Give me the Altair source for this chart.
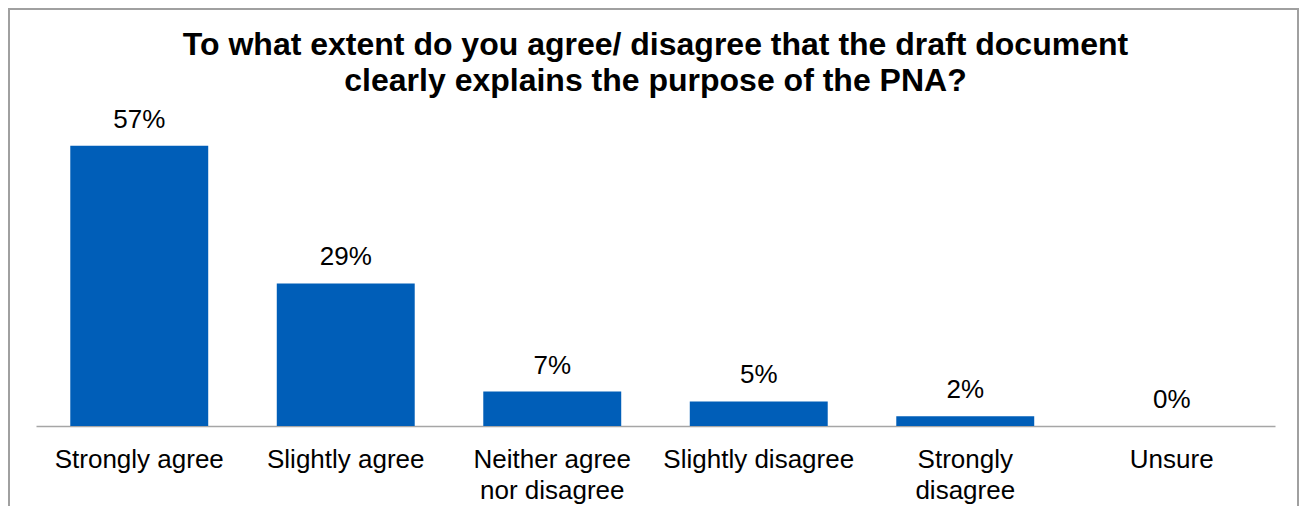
import altair as alt
import pandas as pd

categories = ["Strongly agree", "Slightly agree", "Neither agree nor disagree",
              "Slightly disagree", "Strongly disagree", "Unsure"]
values = [0.57, 0.29, 0.07, 0.05, 0.02, 0.00]

df = pd.DataFrame({"category": categories, "value": values})

FONT = "Liberation Sans"
BLUE = "#005EB8"

label_expr = ("datum.label == 'Neither agree nor disagree' ? ['Neither agree', 'nor disagree'] : "
              "datum.label == 'Strongly disagree' ? ['Strongly', 'disagree'] : datum.label")

x = alt.X("category:N", sort=categories, title=None,
          scale=alt.Scale(paddingInner=0.332, paddingOuter=0.166),
          axis=alt.Axis(labelAngle=0, labelFontSize=26, labelFont=FONT, labelColor="#000000",
                        labelPadding=20, labelLineHeight=31, ticks=False,
                        domainColor="#A6A6A6", domainWidth=1.5, labelExpr=label_expr,
                        labelLimit=0))
y = alt.Y("value:Q", scale=alt.Scale(domain=[0, 0.6]), axis=None)

bars = alt.Chart(df).mark_bar(color=BLUE).encode(x=x, y=y)
labels = alt.Chart(df).mark_text(fontSize=26, font=FONT, color="#000000",
                                 baseline="alphabetic", dy=-18).encode(
    x=x, y=y, text=alt.Text("value:Q", format=".0%"))

frame = alt.Chart(df).mark_rect(fill=None, stroke="#A0A0A0", strokeWidth=1.5).encode(
    x=alt.value(-27), x2=alt.value(1262), y=alt.value(-122), y2=alt.value(420))

chart = alt.layer(frame, bars, labels).properties(
    width=1239, height=295,
    autosize=alt.AutoSizeParams(type="none"),
    padding={"left": 28, "top": 123, "right": 24, "bottom": 80},
    title=alt.TitleParams(
        text=["To what extent do you agree/ disagree that the draft document",
              "clearly explains the purpose of the PNA?"],
        fontSize=32, font=FONT, fontWeight="bold", color="#000000",
        anchor="middle", frame="group", offset=-90, lineHeight=36),
).configure_view(stroke=None)

chart.save("out.html", embed_options={"renderer": "svg", "actions": False})
